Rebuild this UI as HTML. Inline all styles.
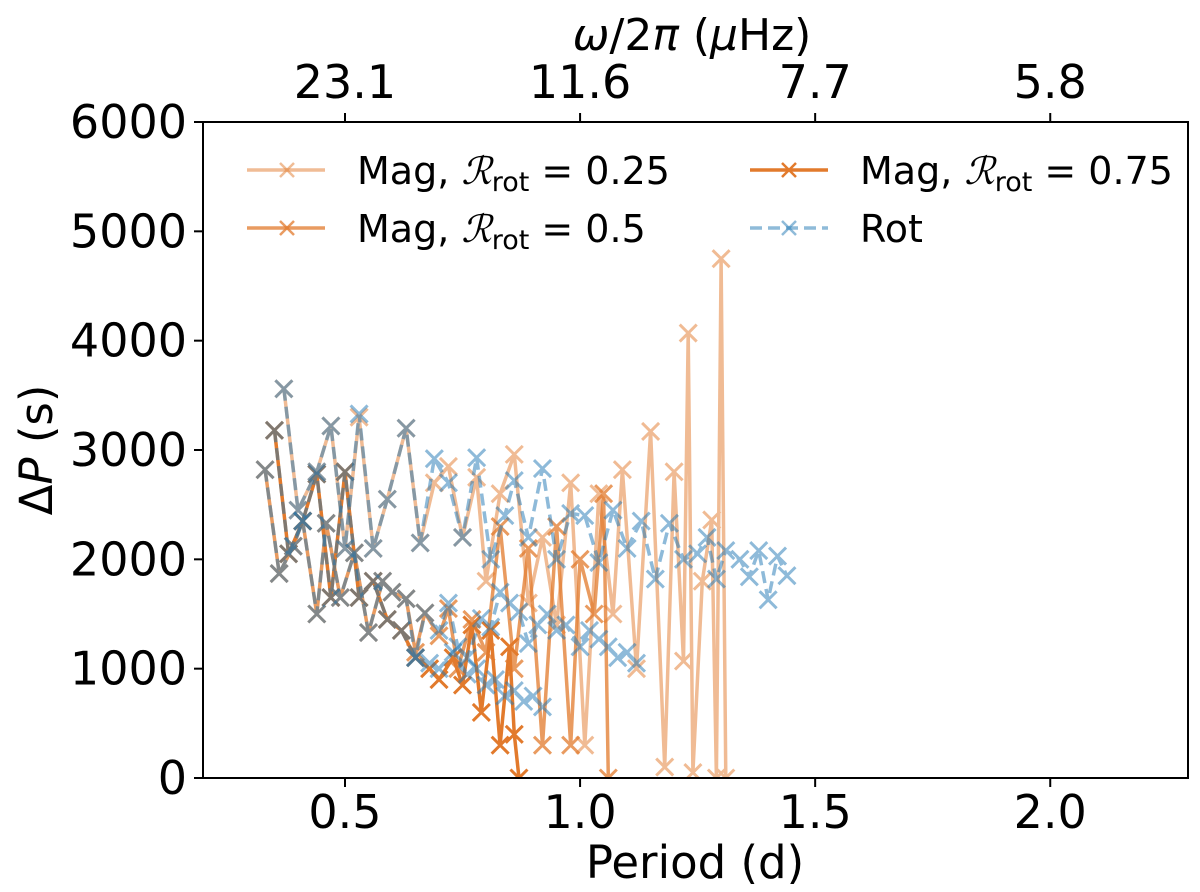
<!DOCTYPE html>
<html><head><meta charset="utf-8"><style>
html,body{margin:0;padding:0;background:#fff;}
svg{display:block;font-family:"DejaVu Sans","Liberation Sans",sans-serif;}
</style></head><body>
<svg id="chart" width="1200" height="892" viewBox="0 0 1200 892"></svg>
<script>
// ---- data ----
const rotUpperP = [0.37,0.40,0.44,0.47,0.50,0.53,0.56,0.59,0.63,0.66,0.69,0.72,0.75,0.78,0.81,0.84,0.86,0.89,0.92,0.95,0.98,1.01,1.04,1.07,1.10,1.13,1.16,1.19,1.22,1.25,1.27,1.29,1.31,1.34,1.36,1.38,1.40,1.42,1.44];
const rotUpperDP = [3560,2450,2800,3220,2100,3330,2100,2550,3200,2150,2920,2700,2200,2930,2000,2400,2720,2200,2830,2000,2420,2400,1970,2450,2100,2350,1820,2330,2000,2050,2200,1820,2080,2000,1840,2080,1630,2030,1850];
const rotMidP = [0.33,0.36,0.39,0.41,0.44,0.46,0.49,0.52,0.55,0.58,0.60,0.63,0.65,0.67,0.70,0.72,0.74,0.76,0.79,0.81,0.83,0.85,0.87,0.89,0.91,0.93,0.95,0.97,1.00,1.02,1.04,1.06,1.08,1.10,1.12];
const rotMidDP = [2820,1870,2120,2350,1500,2330,1650,2060,1330,1800,1700,1640,1100,1510,1350,1600,1200,1100,1460,1380,1700,1600,1520,1230,1400,1500,1350,1400,1200,1350,1270,1200,1100,1150,1050];
const rotLowP = [0.35,0.38,0.41,0.44,0.47,0.50,0.53,0.56,0.59,0.62,0.65,0.68,0.70,0.73,0.76,0.78,0.80,0.82,0.84,0.86,0.88,0.90,0.92];
const rotLowDP = [3180,2050,2350,2780,1650,2800,1650,1800,1450,1350,1100,1050,1000,1150,950,1000,850,900,750,800,700,750,650];

const mag25P = [0.37,0.40,0.44,0.47,0.50,0.53,0.56,0.59,0.63,0.66,0.69,0.72,0.75,0.78,0.80,0.83,0.86,0.89,0.92,0.95,0.98,1.01,1.04,1.07,1.09,1.12,1.15,1.18,1.20,1.22,1.23,1.24,1.26,1.28,1.29,1.30,1.31];
const mag25DP = [3560,2450,2800,3220,2100,3300,2100,2550,3200,2150,2700,2850,2200,2750,1800,2600,2960,1600,2200,1400,2700,300,2600,1500,2820,1000,3170,100,2800,1070,4070,50,1800,2360,0,4750,0];
const mag50P = [0.33,0.36,0.39,0.41,0.44,0.46,0.49,0.52,0.55,0.58,0.60,0.63,0.65,0.67,0.70,0.72,0.74,0.77,0.80,0.83,0.86,0.89,0.92,0.95,0.98,1.00,1.03,1.05,1.06];
const mag50DP = [2820,1870,2120,2350,1500,2330,1650,2060,1330,1800,1700,1640,1150,1510,1300,1550,1000,1450,1150,2300,1000,2100,300,2300,300,2000,1500,2600,0];
const mag75P = [0.35,0.38,0.41,0.44,0.47,0.50,0.53,0.56,0.59,0.62,0.65,0.68,0.70,0.73,0.75,0.77,0.79,0.81,0.83,0.85,0.86,0.87];
const mag75DP = [3180,2050,2350,2780,1650,2800,1650,1800,1450,1350,1100,1000,900,1100,850,1400,600,1350,300,1200,400,0];

const xTicks = [0.5,1.0,1.5,2.0];
const xTickLabels = ["0.5","1.0","1.5","2.0"];
const yTicks = [0,1000,2000,3000,4000,5000,6000];
const yTickLabels = ["0","1000","2000","3000","4000","5000","6000"];
const topTicks = [0.5,1.0,1.5,2.0];
const topTickLabels = ["23.1","11.6","7.7","5.8"];

// ---- layout ----
const L=203,R=1188,T=122,B=778;
const X0=0.198,X1=2.293,Y0=0,Y1=6000;
const xs=v=>L+(v-X0)/(X1-X0)*(R-L);
const ys=v=>B-(v-Y0)/(Y1-Y0)*(B-T);
const NS="http://www.w3.org/2000/svg";
const svg=document.getElementById('chart');
function mk(tag,attrs,parent){const e=document.createElementNS(NS,tag);for(const k in attrs)e.setAttribute(k,attrs[k]);(parent||svg).appendChild(e);return e;}

const defs=mk('defs',{});
const cp=mk('clipPath',{id:'clip'},defs);mk('rect',{x:L,y:T,width:R-L,height:B-T},cp);
const plot=mk('g',{'clip-path':'url(#clip)'});



const ORANGE='#e27a2c', BLUE='#1f77b4';
function series(P,D,color,op,dash,name){
  const g=mk('g',{opacity:op},plot);
  
  
  const pts=P.map((p,i)=>xs(p).toFixed(1)+','+ys(D[i]).toFixed(1)).join(' ');
  const ln=mk('polyline',{points:pts,fill:'none',stroke:color,'stroke-width':3.5,'stroke-dasharray':dash||'none','stroke-linejoin':'round'},g);
  
  
  P.forEach((p,i)=>{
    const x=xs(p),y=ys(D[i]),s=8.5;
    const m=mk('path',{d:`M${x-s},${y-s}L${x+s},${y+s}M${x-s},${y+s}L${x+s},${y-s}`,stroke:color,'stroke-width':3,fill:'none'},g);
    
    
  });
}
series(mag25P,mag25DP,ORANGE,0.5,null,'mag-025-series');
series(mag50P,mag50DP,ORANGE,0.75,null,'mag-05-series');
series(mag75P,mag75DP,ORANGE,1,null,'mag-075-series');
series(rotUpperP,rotUpperDP,BLUE,0.5,'12,6','rot-upper-series');
series(rotMidP,rotMidDP,BLUE,0.5,'12,6','rot-middle-series');
series(rotLowP,rotLowDP,BLUE,0.5,'12,6','rot-lower-series');

// frame
const fr=mk('rect',{x:L,y:T,width:R-L,height:B-T,fill:'none',stroke:'#000','stroke-width':2});



xTicks.forEach((v,i)=>{
  const x=xs(v);
  mk('line',{x1:x,x2:x,y1:B,y2:B+9,stroke:'#000','stroke-width':2});
  const t=mk('text',{x:x,y:B+50,'font-size':46,'text-anchor':'middle'});t.textContent=xTickLabels[i];
  
  
});
yTicks.forEach((v,i)=>{
  const y=ys(v);
  mk('line',{x1:L-9,x2:L,y1:y,y2:y,stroke:'#000','stroke-width':2});
  const t=mk('text',{x:L-16,y:y+16,'font-size':46,'text-anchor':'end'});t.textContent=yTickLabels[i];
  
  
});
topTicks.forEach((v,i)=>{
  const x=xs(v);
  mk('line',{x1:x,x2:x,y1:T-9,y2:T,stroke:'#000','stroke-width':2});
  const t=mk('text',{x:x,y:T-24,'font-size':46,'text-anchor':'middle'});t.textContent=topTickLabels[i];
  
  
});
</script>
<svg width="1200" height="892" style="position:absolute;left:0;top:0">
<text x="695" y="878" font-size="45" text-anchor="middle" font-family="DejaVu Sans, Liberation Sans, sans-serif">Period (d)</text>
<text x="692" y="50" font-size="44" text-anchor="middle" font-family="DejaVu Sans, Liberation Sans, sans-serif"><tspan font-style="italic">ω</tspan>/2<tspan font-style="italic">π</tspan> (<tspan font-style="italic">μ</tspan>Hz)</text>
<text transform="translate(52,450) rotate(-90)" font-size="45" text-anchor="middle" font-family="DejaVu Sans, Liberation Sans, sans-serif">Δ<tspan font-style="italic">P</tspan> (s)</text>
<g font-family="DejaVu Sans, Liberation Sans, sans-serif" font-size="38">
  <g>
    <line x1="247" y1="170" x2="325" y2="170" stroke="#e27a2c" stroke-opacity="0.5" stroke-width="3.5"/>
    <path d="M280,163L294,177M280,177L294,163" stroke="#e27a2c" stroke-opacity="0.5" stroke-width="2.5"/>
    <text x="357" y="184">Mag, <tspan font-style="italic" font-family="Liberation Serif, serif">ℛ</tspan><tspan font-size="27" dy="7">rot</tspan><tspan dy="-7"> = 0.25</tspan></text>
  </g>
  <g>
    <line x1="247" y1="228" x2="325" y2="228" stroke="#e27a2c" stroke-opacity="0.75" stroke-width="3.5"/>
    <path d="M280,221L294,235M280,235L294,221" stroke="#e27a2c" stroke-opacity="0.75" stroke-width="2.5"/>
    <text x="357" y="242">Mag, <tspan font-style="italic" font-family="Liberation Serif, serif">ℛ</tspan><tspan font-size="27" dy="7">rot</tspan><tspan dy="-7"> = 0.5</tspan></text>
  </g>
  <g>
    <line x1="750" y1="170" x2="828" y2="170" stroke="#e27a2c" stroke-width="3.5"/>
    <path d="M782,163L796,177M782,177L796,163" stroke="#e27a2c" stroke-width="2.5"/>
    <text x="860" y="184">Mag, <tspan font-style="italic" font-family="Liberation Serif, serif">ℛ</tspan><tspan font-size="27" dy="7">rot</tspan><tspan dy="-7"> = 0.75</tspan></text>
  </g>
  <g>
    <line x1="750" y1="228" x2="828" y2="228" stroke="#1f77b4" stroke-opacity="0.5" stroke-width="3.5" stroke-dasharray="12,6"/>
    <path d="M782,221L796,235M782,235L796,221" stroke="#1f77b4" stroke-opacity="0.5" stroke-width="2.5"/>
    <text x="860" y="242">Rot</text>
  </g>
</g>
</svg>
</body></html>
